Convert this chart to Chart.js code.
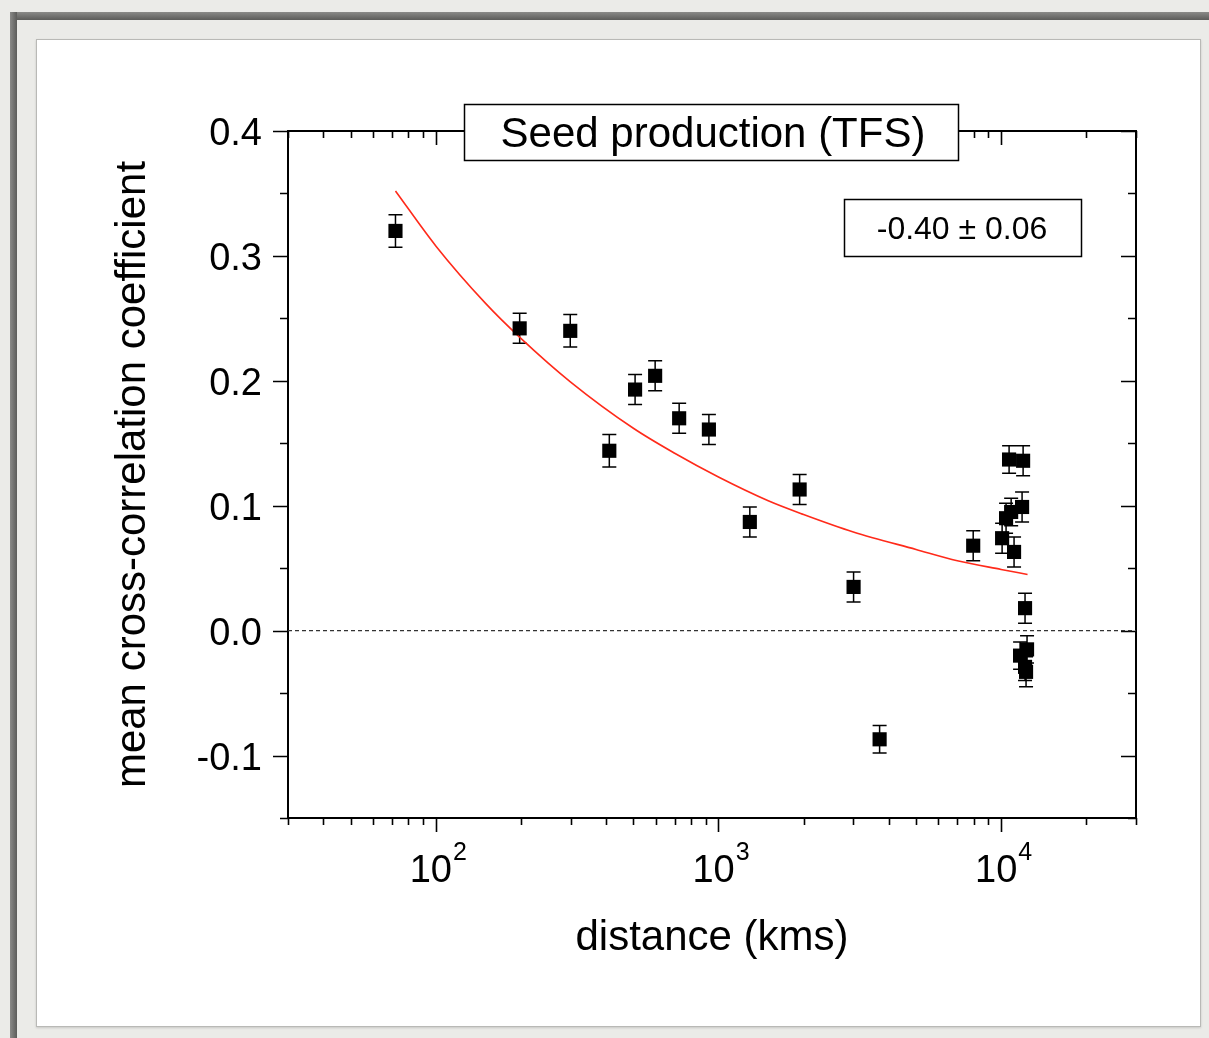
<!DOCTYPE html>
<html>
<head>
<meta charset="utf-8">
<script src="https://cdn.jsdelivr.net/npm/chart.js@4.4.1/dist/chart.umd.min.js"></script>
<style>
  html, body { margin: 0; padding: 0; }
  body { width: 1209px; height: 1038px; background: #ebebe8; position: relative; overflow: hidden; }
  .bar-top { position: absolute; left: 10px; top: 12px; width: 1199px; height: 8px; background: linear-gradient(#8a8a88, #5c5c5a); }
  .bar-left { position: absolute; left: 10px; top: 12px; width: 7px; height: 1026px; background: linear-gradient(90deg, #8a8a88, #5c5c5a); }
  .panel { position: absolute; left: 36px; top: 39px; width: 1163px; height: 986px; background: #fff; border: 1px solid #b9b9b6; box-shadow: 0 1px 2px #c8c8c5; }
  #chart { position: absolute; left: 0; top: 0; }
</style>
</head>
<body>
<div class="bar-top"></div>
<div class="bar-left"></div>
<div class="panel"></div>
<canvas id="chart" width="1209" height="1038"></canvas>
<script>
// distances (kms)
const distance = [72, 198, 299, 411, 507, 597, 726, 925, 1291, 1937, 3006, 3716, 7965,
  10670, 11960, 11860, 10850, 10410, 10080, 11110, 12150, 11670, 12350, 12150, 12250];
// mean cross-correlation coefficient
const coefficient = [0.320, 0.242, 0.240, 0.144, 0.193, 0.204, 0.170, 0.161, 0.087, 0.113, 0.035, -0.087, 0.068,
  0.137, 0.136, 0.099, 0.095, 0.090, 0.074, 0.063, 0.018, -0.020, -0.015, -0.029, -0.033];
// error bar half-heights
const errorBar = [0.013, 0.012, 0.013, 0.013, 0.012, 0.012, 0.012, 0.012, 0.012, 0.012, 0.012, 0.011, 0.012,
  0.011, 0.012, 0.012, 0.011, 0.012, 0.012, 0.012, 0.012, 0.011, 0.011, 0.011, 0.012];

// red fit curve
const fitDistance = [72, 100, 150, 200, 300, 500, 700, 1000, 1500, 2000, 3000, 5000, 7000, 10000, 12400];
const fitCoefficient = [0.352, 0.308, 0.262, 0.234, 0.199, 0.162, 0.142, 0.123, 0.104, 0.093, 0.079, 0.065, 0.056, 0.049, 0.045];

const yTicks = [-0.1, 0.0, 0.1, 0.2, 0.3, 0.4];
const yTickLabels = ["-0.1", "0.0", "0.1", "0.2", "0.3", "0.4"];
const xTicks = [100, 1000, 10000];
const xTickExponents = ["2", "3", "4"];

const titleText = "Seed production (TFS)";
const slopeText = "-0.40 \u00b1 0.06";
const xTitle = "distance (kms)";
const yTitle = "mean cross-correlation coefficient";

const FONT = "'Liberation Sans', Arial, sans-serif";

// axes, ticks, error bars, labels (Origin style frame)
const framePlugin = {
  id: "frame",
  beforeDatasetsDraw(chart) {
    const { ctx, chartArea: a, scales } = chart;
    const x = scales.x, y = scales.y;
    ctx.save();
    ctx.strokeStyle = "#000";
    ctx.lineWidth = 2;
    ctx.strokeRect(a.left, a.top, a.right - a.left, a.bottom - a.top);

    ctx.lineWidth = 1.6;
    ctx.beginPath();
    // y ticks every 0.05
    for (let i = -3; i <= 8; i++) {
      const v = i * 0.05;
      const py = Math.round(y.getPixelForValue(v)) + 0.5;
      const major = i % 2 === 0;
      const len = major ? 15 : 8;
      ctx.moveTo(a.left - len, py); ctx.lineTo(a.left, py);
      ctx.moveTo(a.right - len, py); ctx.lineTo(a.right, py);
    }
    // x log ticks
    for (let d = 10; d <= 10000; d *= 10) {
      for (let m = 1; m <= 9; m++) {
        const v = d * m;
        if (v < x.min || v > x.max) continue;
        const px = Math.round(x.getPixelForValue(v)) + 0.5;
        const len = m === 1 ? 14 : 7;
        ctx.moveTo(px, a.bottom); ctx.lineTo(px, a.bottom + len);
        ctx.moveTo(px, a.top); ctx.lineTo(px, a.top + len);
      }
    }
    ctx.stroke();

    // error bars
    ctx.lineWidth = 1.5;
    ctx.beginPath();
    distance.forEach((d, i) => {
      const px = x.getPixelForValue(d);
      const top = y.getPixelForValue(coefficient[i] + errorBar[i]);
      const bot = y.getPixelForValue(coefficient[i] - errorBar[i]);
      ctx.moveTo(px, top); ctx.lineTo(px, bot);
      ctx.moveTo(px - 7, top); ctx.lineTo(px + 7, top);
      ctx.moveTo(px - 7, bot); ctx.lineTo(px + 7, bot);
    });
    ctx.stroke();

    // tick labels
    ctx.fillStyle = "#000";
    ctx.font = "38px " + FONT;
    ctx.textAlign = "right";
    ctx.textBaseline = "alphabetic";
    yTicks.forEach((v, i) => {
      ctx.fillText(yTickLabels[i], 262, y.getPixelForValue(v) + 14);
    });
    xTicks.forEach((v, i) => {
      const px = x.getPixelForValue(v);
      ctx.font = "38px " + FONT;
      const w1 = ctx.measureText("10").width;
      ctx.font = "25px " + FONT;
      const w2 = ctx.measureText(xTickExponents[i]).width;
      const left = px + 2 - (w1 + w2) / 2;
      ctx.textAlign = "left";
      ctx.font = "38px " + FONT;
      ctx.fillText("10", left, 882);
      ctx.font = "25px " + FONT;
      ctx.fillText(xTickExponents[i], left + w1 + 1, 860);
    });

    // axis titles
    ctx.font = "42px " + FONT;
    ctx.textAlign = "center";
    ctx.fillText(xTitle, (a.left + a.right) / 2, 950);
    ctx.save();
    ctx.translate(145, (a.top + a.bottom) / 2);
    ctx.rotate(-Math.PI / 2);
    ctx.fillText(yTitle, 0, 0);
    ctx.restore();
    ctx.restore();
  },
  afterDatasetsDraw(chart) {
    const { ctx } = chart;
    ctx.save();
    ctx.lineWidth = 1.5;
    ctx.strokeStyle = "#000";
    ctx.fillStyle = "#fff";
    // title box over the top axis
    ctx.fillRect(464, 104, 494, 56);
    ctx.strokeRect(464.5, 104.5, 494, 56);
    ctx.fillRect(844, 199, 237, 57);
    ctx.strokeRect(844.5, 199.5, 237, 57);
    ctx.fillStyle = "#000";
    ctx.textAlign = "center";
    ctx.textBaseline = "alphabetic";
    ctx.font = "42px " + FONT;
    ctx.fillText(titleText, 713, 147);
    ctx.font = "32px " + FONT;
    ctx.fillText(slopeText, 962, 239);
    ctx.restore();
  }
};

new Chart(document.getElementById("chart").getContext("2d"), {
  data: {
    datasets: [
      {
        type: "line",
        label: "zero",
        data: [{ x: 30, y: 0 }, { x: 30000, y: 0 }],
        borderColor: "#333",
        borderWidth: 1.2,
        borderDash: [4, 3],
        pointRadius: 0,
        order: 3
      },
      {
        type: "line",
        label: "fit",
        data: fitDistance.map((d, i) => ({ x: d, y: fitCoefficient[i] })),
        borderColor: "#ff2a1a",
        borderWidth: 1.6,
        pointRadius: 0,
        cubicInterpolationMode: "monotone",
        order: 2
      },
      {
        type: "scatter",
        label: "TFS",
        data: distance.map((d, i) => ({ x: d, y: coefficient[i] })),
        pointStyle: "rect",
        pointRadius: 10,
        backgroundColor: "#000",
        borderColor: "#000",
        borderWidth: 0,
        order: 1
      }
    ]
  },
  options: {
    responsive: false,
    animation: false,
    devicePixelRatio: 1,
    layout: {
      padding: { left: 288, right: 73, top: 131, bottom: 220 }
    },
    plugins: {
      legend: { display: false },
      tooltip: { enabled: false }
    },
    scales: {
      x: { type: "logarithmic", min: 30, max: 30000, display: false },
      y: { type: "linear", min: -0.15, max: 0.4, display: false }
    }
  },
  plugins: [framePlugin]
});
</script>
</body>
</html>
